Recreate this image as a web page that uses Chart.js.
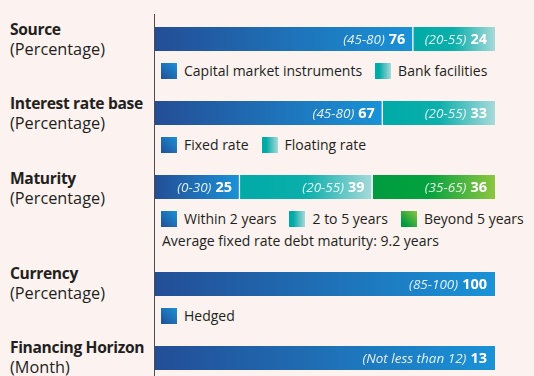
<!DOCTYPE html>
<html>
<head>
<meta charset="utf-8">
<script src="https://cdn.jsdelivr.net/npm/chart.js@4.4.1/dist/chart.umd.min.js"></script>
<style>
  body { margin: 0; background: #fcf2f0; font-family: "Open Sans", sans-serif; color: #231f20; }
  #board { position: relative; width: 534px; height: 376px; overflow: hidden; }
  .title { position: absolute; left: 10px; font-size: 16.3px; line-height: 20px; white-space: nowrap; }
  .title b { display: block; font-weight: 700; font-size: 15.6px; letter-spacing: -0.35px; }
  .axis { position: absolute; left: 154px; top: 14px; width: 1px; height: 362px; background: #4d4d4d; }
  .bar { position: absolute; left: 155px; }
  .legend { position: absolute; left: 161px; display: flex; align-items: center; font-size: 14px; line-height: 16px; white-space: nowrap; }
  .legend .item { display: flex; align-items: center; margin-right: 13px; }
  .legend .key { width: 16px; height: 16px; margin-right: 7px; }
  .note { position: absolute; left: 162px; font-size: 14px; line-height: 16px; white-space: nowrap; }
</style>
</head>
<body>
<div id="board"><div class="axis"></div></div>
<script>
// rows, top to bottom
const rowTitles = ['Source', 'Interest rate base', 'Maturity', 'Currency', 'Financing Horizon'];
const rowUnits = ['(Percentage)', '(Percentage)', '(Percentage)', '(Percentage)', '(Month)'];

const sourceLabels = ['Capital market instruments', 'Bank facilities'];
const sourceValues = [76, 24];
const sourceRanges = ['(45-80)', '(20-55)'];

const rateLabels = ['Fixed rate', 'Floating rate'];
const rateValues = [67, 33];
const rateRanges = ['(45-80)', '(20-55)'];

const maturityLabels = ['Within 2 years', '2 to 5 years', 'Beyond 5 years'];
const maturityValues = [25, 39, 36];
const maturityRanges = ['(0-30)', '(20-55)', '(35-65)'];
const maturityNote = 'Average fixed rate debt maturity: 9.2 years';

const currencyLabels = ['Hedged'];
const currencyValues = [100];
const currencyRanges = ['(85-100)'];

const horizonLabels = [];
const horizonValues = [13];
const horizonRanges = ['(Not less than 12)'];

// axis end for each row: percentages run to 100, the horizon bar to its month count
const axisMax = [100, 100, 100, 100, 13];

// gradient stops
const blue = [[0, '#234e96'], [1, '#1a92d7']];
const teal = [[0, '#00aaa7'], [0.5, '#0bafab'], [1, '#a7dada']];
const green = [[0, '#009b3f'], [0.45, '#03a23f'], [1, '#8dc63f']];
const keyFills = {
  blue: 'linear-gradient(to top right, #234e96, #1a92d7)',
  teal: 'linear-gradient(to right, #00aaa7 25%, #a7dada)',
  green: 'linear-gradient(to top right, #009b3f 20%, #8dc63f)'
};

const rows = [
  { labels: sourceLabels, values: sourceValues, ranges: sourceRanges, fills: [blue, teal], keys: ['blue', 'teal'] },
  { labels: rateLabels, values: rateValues, ranges: rateRanges, fills: [blue, teal], keys: ['blue', 'teal'] },
  { labels: maturityLabels, values: maturityValues, ranges: maturityRanges, fills: [blue, teal, green], keys: ['blue', 'teal', 'green'] },
  { labels: currencyLabels, values: currencyValues, ranges: currencyRanges, fills: [blue], keys: ['blue'] },
  { labels: horizonLabels, values: horizonValues, ranges: horizonRanges, fills: [blue], keys: ['blue'] }
];

// layout
const titleTops = [19, 93, 168, 263, 337];
const barTops = [27, 101, 175, 272, 346];
const legendTops = [63, 137, 211, 308, null];
const noteTop = 233;

function segmentFill(chart, from, to, stops) {
  const x = chart.scales.x;
  if (!chart.chartArea || !x) return stops[0][1];
  const g = chart.ctx.createLinearGradient(x.getPixelForValue(from), 0, x.getPixelForValue(to), 0);
  stops.forEach(([o, c]) => g.addColorStop(o, c));
  return g;
}

// writes "(range) value" at the right end of every segment
const segmentLabels = {
  id: 'segmentLabels',
  afterDatasetsDraw(chart, args, opts) {
    const ctx = chart.ctx;
    chart.data.datasets.forEach((ds, i) => {
      const bar = chart.getDatasetMeta(i).data[0];
      const right = bar.x - 8;
      const y = bar.y + 1;
      const val = String(ds.data[0]);
      ctx.save();
      ctx.textBaseline = 'middle';
      ctx.textAlign = 'right';
      ctx.font = 'bold 14.5px "Open Sans"';
      ctx.fillStyle = '#ffffff';
      ctx.fillText(val, right, y);
      const w = ctx.measureText(val).width;
      ctx.font = 'italic 13.5px "Open Sans"';
      ctx.fillStyle = 'rgba(255,255,255,0.88)';
      ctx.fillText(opts.ranges[i], right - w - 4, y);
      ctx.restore();
    });
  }
};

const board = document.getElementById('board');

rows.forEach((row, r) => {
  const title = document.createElement('div');
  title.className = 'title';
  title.style.top = titleTops[r] + 'px';
  title.innerHTML = '<b></b><span></span>';
  title.querySelector('b').textContent = rowTitles[r];
  title.querySelector('span').textContent = rowUnits[r];
  board.appendChild(title);

  const canvas = document.createElement('canvas');
  canvas.className = 'bar';
  canvas.width = 340;
  canvas.height = 24;
  canvas.style.top = barTops[r] + 'px';
  board.appendChild(canvas);

  let start = 0;
  const datasets = row.values.map((v, i) => {
    const from = start;
    start += v;
    return {
      label: row.labels[i] || rowTitles[r],
      data: [v],
      backgroundColor: ctx => segmentFill(ctx.chart, from, from + v, row.fills[i]),
      borderColor: 'rgba(255,255,255,0.9)',
      borderWidth: i < row.values.length - 1 ? { right: 1.5 } : 0,
      borderSkipped: false,
      barPercentage: 1,
      categoryPercentage: 1
    };
  });

  new Chart(canvas, {
    type: 'bar',
    data: { labels: [rowTitles[r]], datasets },
    options: {
      indexAxis: 'y',
      responsive: false,
      animation: false,
      layout: { padding: 0 },
      scales: {
        x: { stacked: true, min: 0, max: axisMax[r], display: false },
        y: { stacked: true, display: false }
      },
      plugins: {
        legend: { display: false },
        tooltip: { enabled: false },
        segmentLabels: { ranges: row.ranges }
      }
    },
    plugins: [segmentLabels]
  });

  if (legendTops[r] !== null && row.labels.length) {
    const legend = document.createElement('div');
    legend.className = 'legend';
    legend.style.top = legendTops[r] + 'px';
    row.labels.forEach((name, i) => {
      const item = document.createElement('div');
      item.className = 'item';
      const key = document.createElement('span');
      key.className = 'key';
      key.style.background = keyFills[row.keys[i]];
      const text = document.createElement('span');
      text.textContent = name;
      item.appendChild(key);
      item.appendChild(text);
      legend.appendChild(item);
    });
    board.appendChild(legend);
  }
});

const note = document.createElement('div');
note.className = 'note';
note.style.top = noteTop + 'px';
note.textContent = maturityNote;
board.appendChild(note);
</script>
</body>
</html>
